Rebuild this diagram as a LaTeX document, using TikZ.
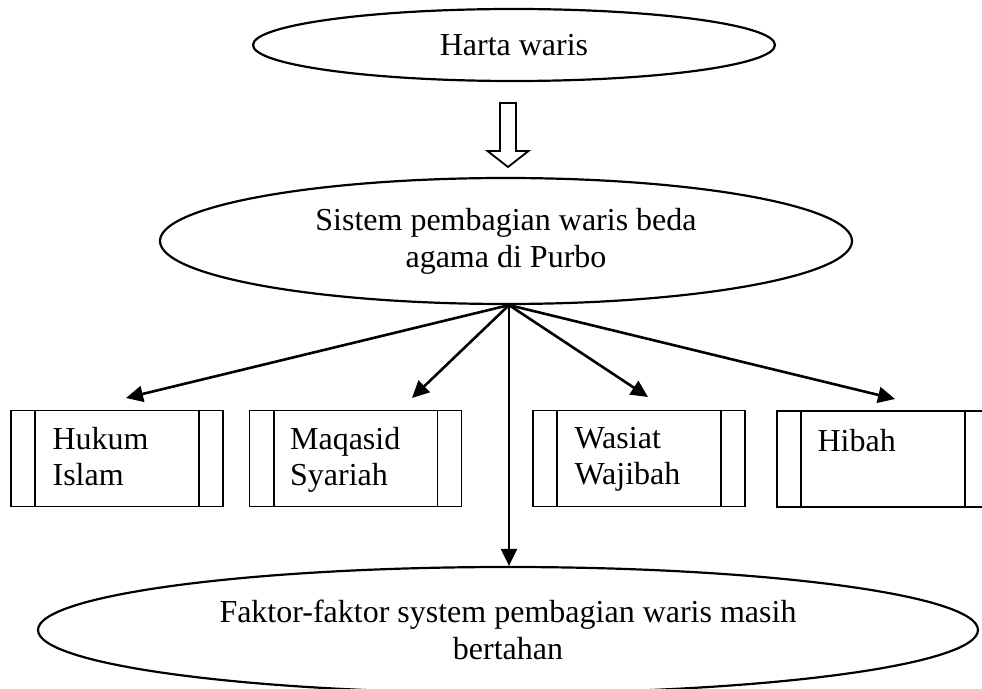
\documentclass[tikz,border=0pt]{standalone}
\usepackage{fontspec}
\setmainfont{Liberation Serif}
\usetikzlibrary{shapes.geometric,arrows.meta}
\begin{document}
\begin{tikzpicture}[x=0.5pt,y=-0.5pt,
  txt/.style={font=\fontsize{16}{18.5}\selectfont},
  oval/.style={ellipse,draw,line width=1.1pt,inner sep=0pt,align=center,txt},
  panel/.style={rectangle,draw,line width=0.8pt,minimum width=106pt,minimum height=48pt,inner sep=0pt},
  panelbar/.style={line width=0.8pt},
  paneltext/.style={anchor=north west,inner sep=0pt,align=left,font=\fontsize{16}{18}\selectfont},
  link/.style={line width=1.3pt,-{Triangle[length=8.5pt,width=8pt]}},
  hollow/.style={draw,line width=0.9pt,fill=white,line join=miter}]
\fill[white] (0,0) rectangle (982,689);
\useasboundingbox (0,0) rectangle (982,689);
\clip (0,0) rectangle (982,689);
% ovals
\node[oval,minimum width=261pt,minimum height=36pt] (top) at (514,45) {Harta waris};
\node[oval,minimum width=346pt,minimum height=63pt] (mid) at (506,241) {Sistem pembagian waris beda\\agama di Purbo};
\node[oval,minimum width=470pt,minimum height=63pt] (bot) at (508,630) {Faktor-faktor system pembagian waris masih\\bertahan};
% hollow block arrow between top and mid
\draw[hollow] (500,103) -- (516,103) -- (516,151) -- (528.5,151) -- (508,167) -- (487.5,151) -- (500,151) -- cycle;
% boxes
\node[panel] (b1) at (117,458.5) {};
\node[panel] (b2) at (355.5,458.5) {};
\node[panel] (b3) at (639,458.5) {};
\node[panel] (b4) at (883,459) {};
\foreach \b in {b1,b2,b3,b4}{
  \draw[panelbar] ([xshift=12.5pt]\b.north west) -- ([xshift=12.5pt]\b.south west);
  \draw[panelbar] ([xshift=-12.5pt]\b.north east) -- ([xshift=-12.5pt]\b.south east);
}
\node[paneltext] (t1) at ([xshift=21pt,yshift=-8.75pt]b1.north west) {Hukum\\Islam};
\node[paneltext] (t2) at ([xshift=20.5pt,yshift=-8.75pt]b2.north west) {Maqasid\\Syariah};
\node[paneltext] (t3) at ([xshift=21pt,yshift=-8.75pt]b3.north west) {Wasiat\\Wajibah};
\node[paneltext] (t4) at ([xshift=20.5pt,yshift=-9.5pt]b4.north west) {Hibah};
% connectors
\coordinate (apex) at ([xshift=1.5pt]mid.south);
\coordinate (e1) at (126,398);
\coordinate (e2) at (412,398);
\coordinate (e3) at (648,397);
\coordinate (e4) at (895,399);
\draw[link] (apex) -- (e1);
\draw[link] (apex) -- (e2);
\draw[link] (apex) -- (e3);
\draw[link] (apex) -- (e4);
\draw[link] (apex) -- (apex |- bot.north);
\end{tikzpicture}
\end{document}
